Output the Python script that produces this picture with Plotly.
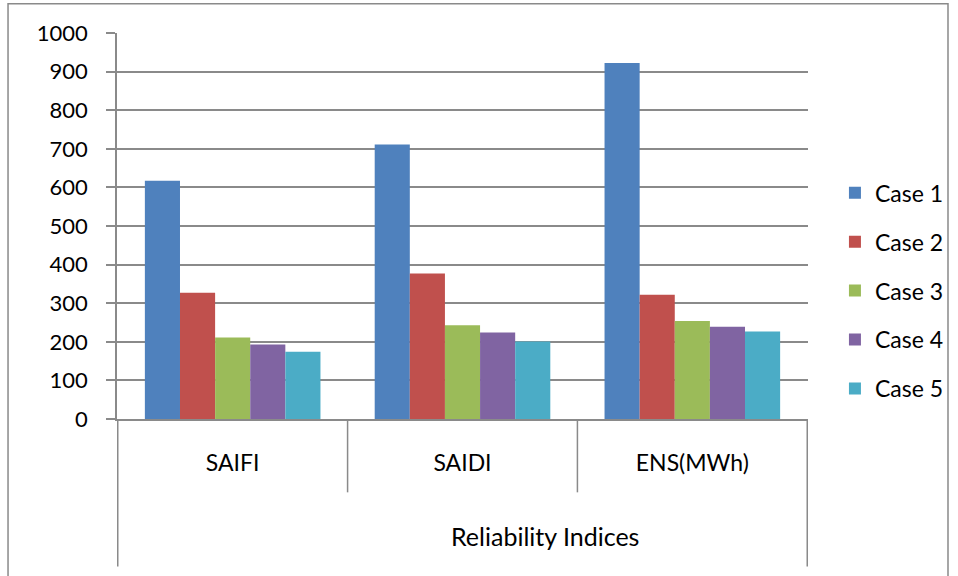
import plotly.graph_objects as go

# Reliability indices for five network cases
categories = ["SAIFI", "SAIDI", "ENS(MWh)"]
series_names = ["Case 1", "Case 2", "Case 3", "Case 4", "Case 5"]
case1 = [617, 711, 922]
case2 = [327, 377, 322]
case3 = [211, 243, 254]
case4 = [193, 224, 239]
case5 = [174, 201, 227]
series_values = [case1, case2, case3, case4, case5]
series_colors = ["#4F81BD", "#C0504D", "#9BBB59", "#8064A2", "#4BACC6"]
y_ticks = list(range(0, 1001, 100))
outer_label = "Reliability Indices"

FONT = "Lato"
GRID = "#8a8a8a"

fig = go.Figure()
for name, vals, col in zip(series_names, series_values, series_colors):
    fig.add_trace(go.Bar(
        x=categories, y=vals, name=name, legendgroup=name,
        marker=dict(color=col, line=dict(width=0)),
    ))

# category divider lines below the axis (two-level category layout)
shapes = []
for xb, depth in [(-0.5, -0.382), (0.5, -0.19), (1.5, -0.19), (2.5, -0.382)]:
    shapes.append(dict(type="line", xref="x", yref="paper", x0=xb, x1=xb,
                       y0=0, y1=depth, line=dict(color=GRID, width=1.5)))
# outer chart frame
shapes.append(dict(type="rect", xref="paper", yref="paper",
                   x0=-0.1577, x1=1.2026, y0=-0.45, y1=1.076,
                   line=dict(color=GRID, width=1.5), fillcolor="rgba(0,0,0,0)",
                   layer="below"))

fig.update_layout(
    width=958, height=576,
    margin=dict(l=117, r=150, t=33, b=157, pad=0, autoexpand=False),
    paper_bgcolor="white", plot_bgcolor="white",
    font=dict(family=FONT, size=22, color="black"),
    barmode="group", bargap=0.236, bargroupgap=0,
    showlegend=True,
    legend=dict(x=1.039, xanchor="left", y=0.332, yanchor="middle",
                font=dict(family=FONT, size=23, color="black"),
                tracegroupgap=16, bgcolor="rgba(0,0,0,0)"),
    shapes=shapes,
    annotations=[dict(text=outer_label, xref="paper", yref="paper",
                      x=0.619, y=-0.302, xanchor="center", yanchor="middle",
                      showarrow=False, font=dict(family=FONT, size=25, color="black"))],
)
fig.update_xaxes(
    type="category", showline=True, linecolor=GRID, linewidth=1.5,
    showgrid=False, ticks="", ticklabelstandoff=23,
    tickfont=dict(family=FONT, size=23, color="black"),
)
fig.update_yaxes(
    range=[0, 1000], tickvals=y_ticks, ticktext=[str(v) for v in y_ticks],
    showline=True, linecolor=GRID, linewidth=1.5,
    ticks="outside", ticklen=9, tickcolor=GRID, tickwidth=1.5,
    showgrid=True, gridcolor=GRID, gridwidth=1.5, zeroline=False,
    ticklabelstandoff=14,
    tickfont=dict(family=FONT, size=22, color="black"),
)

fig.write_html("out.html")
